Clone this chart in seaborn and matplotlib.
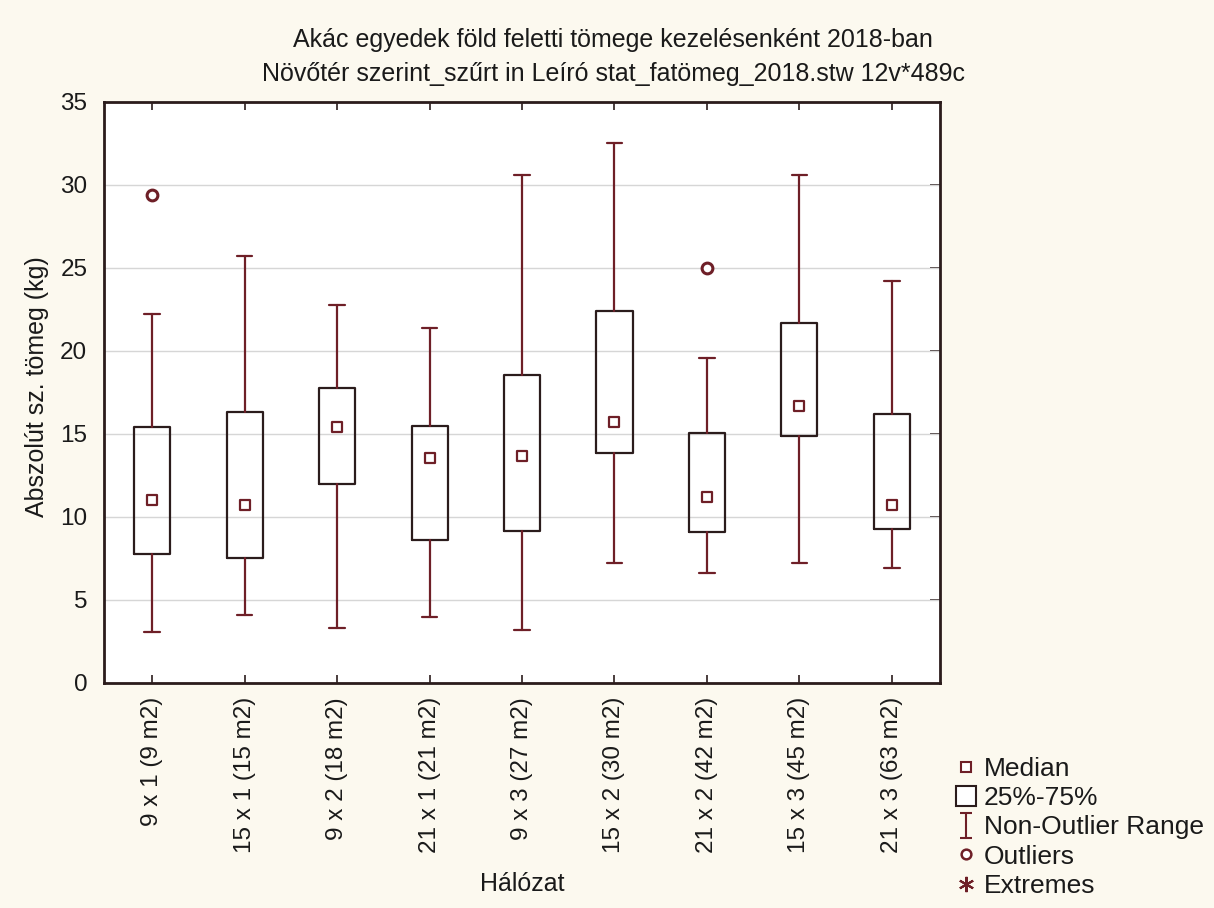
import matplotlib
matplotlib.use("Agg")
import matplotlib.pyplot as plt
import seaborn as sns
import numpy as np
import pandas as pd
from matplotlib.path import Path
from matplotlib.lines import Line2D

categories = ["9 x 1 (9 m2)", "15 x 1 (15 m2)", "9 x 2 (18 m2)", "21 x 1 (21 m2)",
              "9 x 3 (27 m2)", "15 x 2 (30 m2)", "21 x 2 (42 m2)", "15 x 3 (45 m2)",
              "21 x 3 (63 m2)"]
whisker_low = [3.1, 4.1, 3.3, 4.0, 3.2, 7.2, 6.6, 7.2, 6.9]
q1 = [7.8, 7.5, 12.0, 8.6, 9.15, 13.85, 9.1, 14.9, 9.3]
median = [11.0, 10.75, 15.45, 13.55, 13.7, 15.7, 11.2, 16.7, 10.75]
q3 = [15.4, 16.3, 17.8, 15.5, 18.55, 22.4, 15.05, 21.7, 16.2]
whisker_high = [22.2, 25.7, 22.75, 21.4, 30.6, 32.5, 19.6, 30.6, 24.2]
outliers = [[29.4], [], [], [], [], [], [25.0], [], []]

title = "Akác egyedek föld feletti tömege kezelésenként 2018-ban\nNövőtér szerint_szűrt in Leíró stat_fatömeg_2018.stw 12v*489c"
xlabel = "Hálózat"
ylabel = "Abszolút sz. tömeg (kg)"
legend_labels = ["Median", "25%-75%", "Non-Outlier Range", "Outliers", "Extremes"]

sns.set_theme(style="white")
plt.rcParams["font.family"] = ["Liberation Sans", "DejaVu Sans"]

BG = "#fcf9ef"
DARK = "#2b1c1c"
RED = "#6e1f27"
TXT = "#1a1a1a"

fig = plt.figure(figsize=(12.14, 9.08), dpi=100, facecolor=BG)
ax = fig.add_axes([0.0857, 0.2478, 0.6886, 0.6399])
ax.set_facecolor("white")

stats = []
for i, c in enumerate(categories):
    stats.append(dict(label=c, whislo=whisker_low[i], q1=q1[i], med=median[i],
                      q3=q3[i], whishi=whisker_high[i], fliers=[]))
pos = np.arange(len(categories))
ax.bxp(stats, positions=pos, widths=0.39, showfliers=False,
       boxprops=dict(color=DARK, linewidth=1.6),
       whiskerprops=dict(color=RED, linewidth=1.6),
       capprops=dict(color=RED, linewidth=1.6),
       medianprops=dict(linewidth=0), capwidths=0.17, zorder=3)

med_df = pd.DataFrame({"x": pos, "y": median})
sns.scatterplot(data=med_df, x="x", y="y", marker="s", s=60, facecolor="white",
                edgecolor=RED, linewidth=1.6, ax=ax, zorder=4)
ox, oy = [], []
for i, o in enumerate(outliers):
    for v in o:
        ox.append(i)
        oy.append(v)
out_df = pd.DataFrame({"x": ox, "y": oy})
sns.scatterplot(data=out_df, x="x", y="y", marker="o", s=60, facecolor="white",
                edgecolor=RED, linewidth=2.2, ax=ax, zorder=4)

ax.set_xlim(-0.52, len(categories) - 0.48)
ax.set_ylim(0, 35)
ax.set_yticks(np.arange(0, 36, 5))
ax.set_xticks(pos)
ax.set_xticklabels(categories, rotation=90, fontsize=17.5)
ax.tick_params(axis="y", labelsize=17.5, length=0, pad=12)
ax.tick_params(axis="x", direction="in", length=6, width=1.2, color=DARK, pad=10,
               top=True, bottom=True)
ax.yaxis.grid(True, color="#d6d6d6", linewidth=1)
ax.set_axisbelow(True)
for s in ax.spines.values():
    s.set_color(DARK)
    s.set_linewidth(2)
ax2 = ax.secondary_yaxis("right")
ax2.set_yticks(np.arange(5, 35, 5))
ax2.tick_params(direction="in", length=7, width=1.2, color=DARK, labelright=False)
ax2.spines["right"].set_visible(False)

ax.set_xlabel(xlabel, fontsize=18, color=TXT)
ax.xaxis.set_label_coords(0.5, -0.325)
ax.set_ylabel(ylabel, fontsize=18, color=TXT)
ax.yaxis.set_label_coords(-0.066, 0.51)
fig.text(0.505, 1 - 28 / 908, title, ha="center", va="top", fontsize=18,
         linespacing=1.5, color=TXT)
for t in ax.get_xticklabels() + ax.get_yticklabels():
    t.set_color(TXT)

ibeam = Path([(-0.5, -1), (0.5, -1), (0, -1), (0, 1), (-0.5, 1), (0.5, 1)],
             [Path.MOVETO, Path.LINETO, Path.MOVETO, Path.LINETO, Path.MOVETO, Path.LINETO])
handles = [
    Line2D([], [], linestyle="none", marker="s", markersize=7, markerfacecolor="white",
           markeredgecolor=RED, markeredgewidth=1.5),
    Line2D([], [], linestyle="none", marker="s", markersize=15, markerfacecolor="white",
           markeredgecolor=DARK, markeredgewidth=1.5),
    Line2D([], [], linestyle="none", marker=ibeam, markersize=18, markerfacecolor="none",
           markeredgecolor=RED, markeredgewidth=1.5),
    Line2D([], [], linestyle="none", marker="o", markersize=7, markerfacecolor="white",
           markeredgecolor=RED, markeredgewidth=1.8),
    Line2D([], [], linestyle="none", marker=(6, 2, 0), markersize=11,
           markeredgecolor=RED, markeredgewidth=1.5),
]
leg = fig.legend(handles, legend_labels, loc="lower left",
                 bbox_to_anchor=(955 / 1214, 10 / 908),
                 frameon=False, fontsize=19, handlelength=0.8, handletextpad=0.3,
                 labelspacing=0.2, borderaxespad=0.0, borderpad=0.0)
for t in leg.get_texts():
    t.set_color(TXT)

fig.savefig("out.png", dpi=100, facecolor=BG)
